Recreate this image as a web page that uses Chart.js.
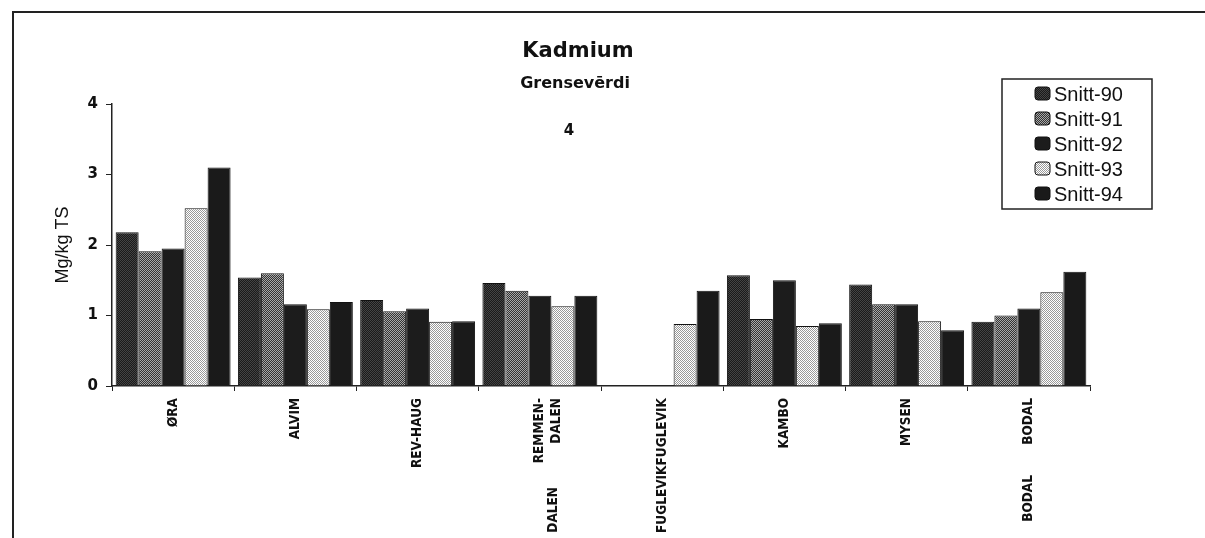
<!DOCTYPE html>
<html>
<head>
<meta charset="utf-8">
<script src="https://cdn.jsdelivr.net/npm/chart.js@4/dist/chart.umd.min.js"></script>
<style>
  html, body { margin: 0; padding: 0; background: #fff; }
  #wrap { position: relative; width: 1205px; height: 538px; overflow: hidden; }
  #frame { position: absolute; left: 12px; top: 11px; width: 1300px; height: 600px;
           border-left: 2px solid #222; border-top: 2px solid #222; }
  canvas { position: absolute; left: 0; top: 0; }
</style>
</head>
<body>
<div id="wrap">
  <div id="frame"></div>
  <canvas id="kadmium" width="1205" height="538"></canvas>
</div>
<script>
// data
var sites = ['ØRA', 'ALVIM', 'REV-HAUG', ['REMMEN-', 'DALEN'], 'FUGLEVIKFUGLEVIK', 'KAMBO', 'MYSEN', 'BODAL'];
var seriesNames = ['Snitt-90', 'Snitt-91', 'Snitt-92', 'Snitt-93', 'Snitt-94'];
var snitt90 = [2.18, 1.54, 1.22, 1.46, null, 1.57, 1.44, 0.91];
var snitt91 = [1.91, 1.60, 1.06, 1.35, null, 0.95, 1.16, 1.00];
var snitt92 = [1.95, 1.16, 1.10, 1.28, null, 1.50, 1.16, 1.10];
var snitt93 = [2.52, 1.09, 0.91, 1.13, 0.88, 0.85, 0.92, 1.33];
var snitt94 = [3.10, 1.19, 0.92, 1.28, 1.35, 0.89, 0.79, 1.62];
var yTicks = [0, 1, 2, 3, 4];
var grenseverdi = 4;
// leftover label copies printed below the axis in the original
var ghostLabels = [[3, 'DALEN'], [7, 'BODAL']];

// little dither fills like the old printer patterns
function dither(a, b) {
  var c = document.createElement('canvas');
  c.width = 2; c.height = 2;
  var g = c.getContext('2d');
  g.fillStyle = a; g.fillRect(0, 0, 2, 2);
  g.fillStyle = b; g.fillRect(0, 0, 1, 1); g.fillRect(1, 1, 1, 1);
  return g.createPattern(c, 'repeat');
}
var fills = [
  dither('#1a1a1a', '#444444'),
  dither('#333333', '#a8a8a8'),
  '#1c1c1c',
  dither('#ffffff', '#999999'),
  '#1a1a1a'
];
var allSeries = [snitt90, snitt91, snitt92, snitt93, snitt94];

var labelFont = "'Liberation Sans Narrow', 'DejaVu Sans Condensed', 'Arial Narrow', sans-serif";

var extras = {
  id: 'extras',
  afterDraw: function(chart) {
    var ctx = chart.ctx;
    ctx.save();
    ctx.fillStyle = '#111';
    ctx.textAlign = 'center';
    ctx.textBaseline = 'middle';
    ctx.font = "bold 21px 'DejaVu Sans', sans-serif";
    ctx.fillText('Kadmium', 578, 52);
    ctx.font = "bold 16px 'DejaVu Sans', sans-serif";
    ctx.fillText('Grensevērdi', 575, 84);
    ctx.font = "bold 15px 'DejaVu Sans', sans-serif";
    ctx.fillText(String(grenseverdi), 569, 131);

    // legend box
    ctx.lineWidth = 1.5;
    ctx.strokeStyle = '#222';
    ctx.strokeRect(1002, 79, 150, 130);
    ctx.textAlign = 'left';
    ctx.font = "20px 'Liberation Sans', Arial, sans-serif";
    chart.data.datasets.forEach(function(ds, i) {
      var y = 94 + i * 25;
      ctx.fillStyle = ds.backgroundColor;
      ctx.beginPath();
      ctx.roundRect(1035, y - 7, 15, 13, 3);
      ctx.fill();
      ctx.strokeStyle = '#111';
      ctx.lineWidth = 1;
      ctx.stroke();
      ctx.fillStyle = '#111';
      ctx.fillText(ds.label, 1054, y + 1);
    });

    // ghost labels
    var xs = chart.scales.x;
    ctx.font = 'bold 13.5px ' + labelFont;
    ctx.textAlign = 'right';
    ghostLabels.forEach(function(g) {
      var multi = Array.isArray(sites[g[0]]);
      var x = xs.getPixelForTick(g[0]) + (multi ? 14 : 0);
      ctx.save();
      ctx.translate(x, xs.top + (multi ? 101 : 89));
      ctx.rotate(-Math.PI / 2);
      ctx.fillText(g[1], 0, 0);
      ctx.restore();
    });
    ctx.restore();
  }
};

var config = {
  type: 'bar',
  data: {
    labels: sites,
    datasets: allSeries.map(function(vals, i) {
      return {
        label: seriesNames[i],
        data: vals,
        backgroundColor: fills[i],
        borderColor: '#111',
        borderWidth: 1,
        categoryPercentage: 0.94,
        barPercentage: 1.0
      };
    })
  },
  options: {
    responsive: false,
    animation: false,
    layout: { padding: { left: 52, top: 104, right: 115, bottom: 0 } },
    plugins: {
      legend: { display: false },
      title: { display: false },
      tooltip: { enabled: false }
    },
    scales: {
      x: {
        grid: { drawOnChartArea: false, tickLength: 5, color: '#222' },
        border: { color: '#222', width: 1.5 },
        ticks: {
          minRotation: 90, maxRotation: 90, autoSkip: false, padding: 7,
          color: '#111',
          font: { family: labelFont, size: 13.5, weight: 'bold', lineHeight: 1.2 }
        },
        afterFit: function(scale) { scale.height = 152; }
      },
      y: {
        min: 0, max: 4,
        afterBuildTicks: function(scale) {
          scale.ticks = yTicks.map(function(v) { return { value: v }; });
        },
        grid: { drawOnChartArea: false, tickLength: 6, color: '#222' },
        border: { color: '#222', width: 1.5 },
        ticks: {
          padding: 8, color: '#111',
          font: { family: "'DejaVu Sans', sans-serif", size: 15, weight: 'bold' }
        },
        title: {
          display: true, text: 'Mg/kg TS', color: '#111', padding: 0,
          font: { family: "'Liberation Sans', Arial, sans-serif", size: 18 }
        },
        afterFit: function(scale) { scale.width = 60; }
      }
    }
  },
  plugins: [extras]
};

window.onload = function() {
  var ctx = document.getElementById('kadmium').getContext('2d');
  window.kadChart = new Chart(ctx, config);
};
</script>
</body>
</html>
